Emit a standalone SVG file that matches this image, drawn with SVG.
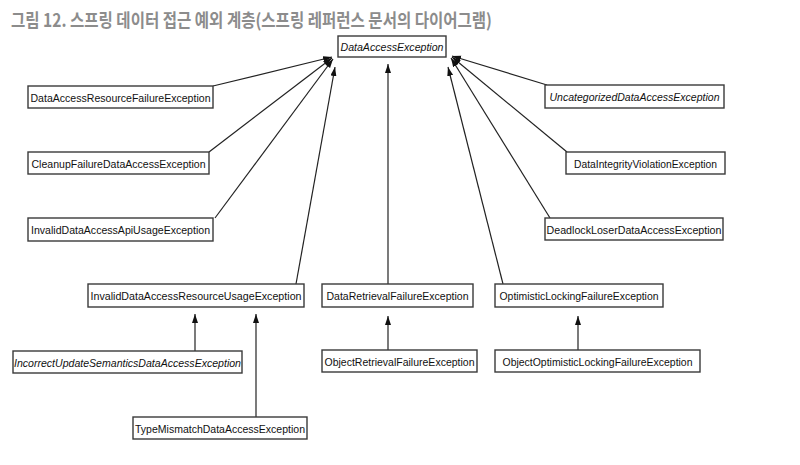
<svg xmlns="http://www.w3.org/2000/svg" width="800" height="465" viewBox="0 0 800 465">
<style>
.box{fill:#fff;stroke:#3a3a3a;stroke-width:1.4}
.t{font-family:"Liberation Sans",Arial,sans-serif;font-size:11.5px;fill:#111;text-anchor:middle}
.i{font-style:italic}
.c{stroke:#222;stroke-width:1.2;fill:none;marker-end:url(#ah)}
.title{font-family:"Noto Sans CJK KR","Noto Sans",sans-serif;font-weight:bold;font-size:18px;fill:#8c8c8c}
</style>
<defs>
<marker id="ah" markerUnits="userSpaceOnUse" markerWidth="10" markerHeight="8" refX="9" refY="3" orient="auto">
<path d="M0,0 L9,3 L0,6 Z" fill="#111"/>
</marker>
</defs>
<rect width="800" height="465" fill="#fff"/>
<text class="title" x="11" y="27" textLength="481" lengthAdjust="spacingAndGlyphs">그림 12. 스프링 데이터 접근 예외 계층(스프링 레퍼런스 문서의 다이어그램)</text>

<g id="connectors">
<line class="c" x1="213" y1="86" x2="332" y2="57"/>
<line class="c" x1="209" y1="152" x2="332" y2="58"/>
<line class="c" x1="215" y1="218" x2="333" y2="59"/>
<line class="c" x1="296" y1="284" x2="335" y2="67"/>
<line class="c" x1="388" y1="284" x2="388" y2="64"/>
<line class="c" x1="503" y1="284" x2="448" y2="67"/>
<line class="c" x1="547" y1="85" x2="452" y2="56"/>
<line class="c" x1="567" y1="152" x2="452" y2="57"/>
<line class="c" x1="550" y1="218" x2="451" y2="58"/>
<line class="c" x1="195" y1="351" x2="195" y2="314"/>
<line class="c" x1="256" y1="417" x2="256" y2="314"/>
<line class="c" x1="388" y1="350" x2="388" y2="316"/>
<line class="c" x1="578" y1="350" x2="578" y2="316"/>
</g>

<g id="DataAccessException"><rect class="box" x="338" y="36" width="108" height="21"/><text class="t i" x="392" y="50.5" textLength="103" lengthAdjust="spacingAndGlyphs">DataAccessException</text></g>

<g id="DataAccessResourceFailureException"><rect class="box" x="28" y="86" width="185" height="22"/><text class="t" x="120.5" y="101.5" textLength="180" lengthAdjust="spacingAndGlyphs">DataAccessResourceFailureException</text></g>
<g id="CleanupFailureDataAccessException"><rect class="box" x="28" y="152" width="181" height="22"/><text class="t" x="118.5" y="167.5" textLength="174" lengthAdjust="spacingAndGlyphs">CleanupFailureDataAccessException</text></g>
<g id="InvalidDataAccessApiUsageException"><rect class="box" x="28" y="218" width="185" height="23"/><text class="t" x="120.5" y="234" textLength="179" lengthAdjust="spacingAndGlyphs">InvalidDataAccessApiUsageException</text></g>
<g id="InvalidDataAccessResourceUsageException"><rect class="box" x="88" y="284" width="216" height="23"/><text class="t" x="196" y="300" textLength="211" lengthAdjust="spacingAndGlyphs">InvalidDataAccessResourceUsageException</text></g>
<g id="DataRetrievalFailureException"><rect class="box" x="322" y="284" width="151" height="23"/><text class="t" x="397.5" y="300" textLength="142" lengthAdjust="spacingAndGlyphs">DataRetrievalFailureException</text></g>
<g id="OptimisticLockingFailureException"><rect class="box" x="495" y="284" width="168" height="23"/><text class="t" x="579" y="300" textLength="159" lengthAdjust="spacingAndGlyphs">OptimisticLockingFailureException</text></g>

<g id="UncategorizedDataAccessException"><rect class="box" x="545" y="85" width="179" height="23"/><text class="t i" x="634.5" y="101" textLength="170" lengthAdjust="spacingAndGlyphs">UncategorizedDataAccessException</text></g>
<g id="DataIntegrityViolationException"><rect class="box" x="566" y="152" width="159" height="22"/><text class="t" x="645.5" y="167.5" textLength="143" lengthAdjust="spacingAndGlyphs">DataIntegrityViolationException</text></g>
<g id="DeadlockLoserDataAccessException"><rect class="box" x="545" y="218" width="178" height="22"/><text class="t" x="634" y="233.5" textLength="175" lengthAdjust="spacingAndGlyphs">DeadlockLoserDataAccessException</text></g>

<g id="IncorrectUpdateSemanticsDataAccessException"><rect class="box" x="13" y="351" width="229" height="22"/><text class="t i" x="127.5" y="366.5" textLength="227" lengthAdjust="spacingAndGlyphs">IncorrectUpdateSemanticsDataAccessException</text></g>
<g id="TypeMismatchDataAccessException"><rect class="box" x="133" y="417" width="174" height="22"/><text class="t" x="220" y="432.5" textLength="170" lengthAdjust="spacingAndGlyphs">TypeMismatchDataAccessException</text></g>
<g id="ObjectRetrievalFailureException"><rect class="box" x="322" y="350" width="155" height="22"/><text class="t" x="399.5" y="365.5" textLength="150" lengthAdjust="spacingAndGlyphs">ObjectRetrievalFailureException</text></g>
<g id="ObjectOptimisticLockingFailureException"><rect class="box" x="495" y="350" width="205" height="22"/><text class="t" x="597.5" y="365.5" textLength="190" lengthAdjust="spacingAndGlyphs">ObjectOptimisticLockingFailureException</text></g>
</svg>
